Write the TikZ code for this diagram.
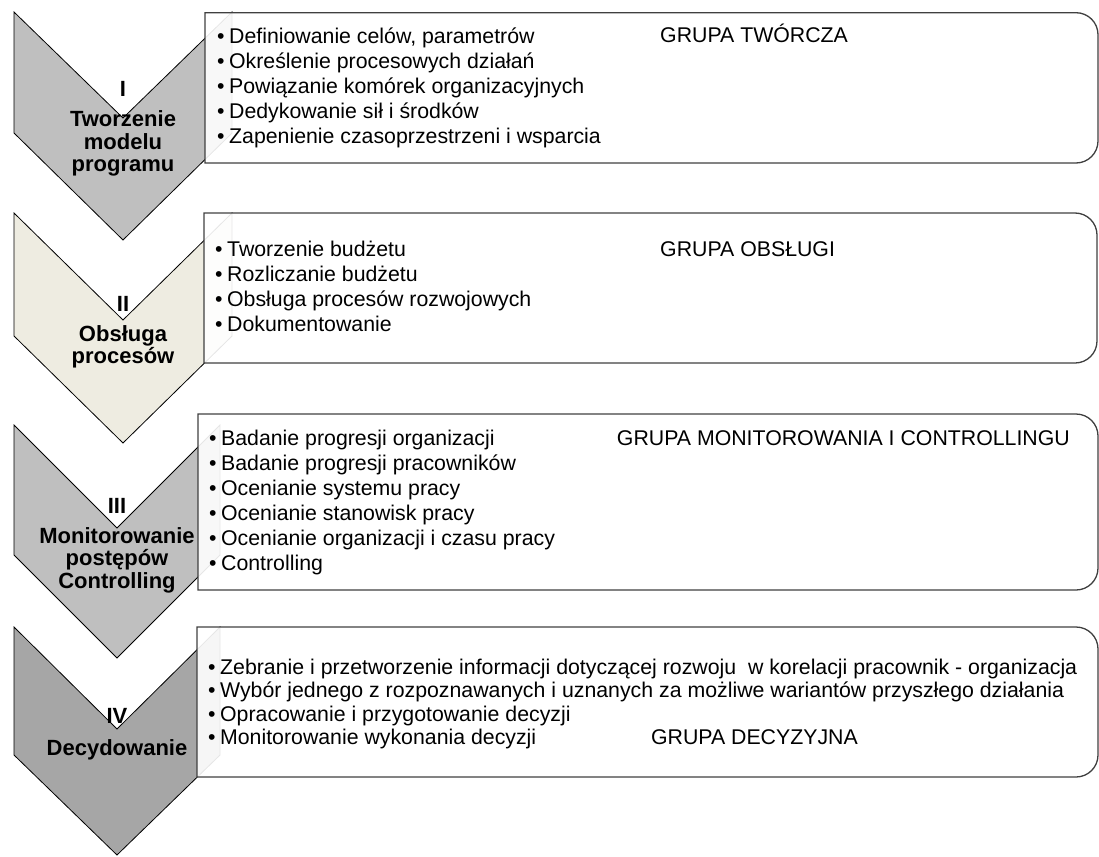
\documentclass[tikz,border=0pt]{standalone}
\usepackage{fontspec}
\setmainfont{Liberation Sans}
\usepackage{xcolor}
\definecolor{chevgray}{HTML}{BFBFBF}
\definecolor{chevcream}{HTML}{EEECE1}
\definecolor{chevdark}{HTML}{A6A6A6}
\definecolor{panelline}{HTML}{404040}
\newcommand{\punkt}{\textbullet\hspace{4.5pt}}
\tikzset{
    chevron/.style={draw=black, line width=0.8pt, line join=miter},
    panel/.style={draw=panelline, line width=1.3pt, fill=white, fill opacity=0.9},
    item/.style={anchor=base west, align=left, inner sep=0pt, font=\fontsize{21.3}{25}\selectfont},
    smallitem/.style={item, font=\fontsize{21.3}{23.5}\selectfont},
    group/.style={inner sep=0pt, font=\fontsize{21.3}{25}\selectfont},
    stage/.style={anchor=base, align=center, inner sep=0pt, font=\bfseries\fontsize{22}{22.5}\selectfont}
}

\begin{document}
\begin{tikzpicture}[x=1pt, y=-1pt]
    \useasboundingbox (0,0) rectangle (1099,856);

    % Chevrons
    \draw[chevron, fill=chevgray] (14,12) -- (123,118) -- (232,12) -- (232,133) -- (123,240) -- (14,133) -- cycle;
    \draw[chevron, fill=chevcream] (14,213) -- (123,320) -- (232,213) -- (232,336) -- (123,443) -- (14,336) -- cycle;
    \draw[chevron, fill=chevgray] (14,425) -- (117,528) -- (220,425) -- (220,555) -- (117,658) -- (14,555) -- cycle;
    \draw[chevron, fill=chevdark] (14,627) -- (117,729) -- (220,627) -- (220,755) -- (117,855) -- (14,755) -- cycle;

    % Stage labels (base = last line)
    \node[stage] (stage1) at (123,171.5) {I\\[7.5pt]Tworzenie\\modelu\\programu};
    \node[stage] (stage2) at (123,363.5) {II\\[7.5pt]Obsługa\\procesów};
    \node[stage] (stage3) at (117,588) {III\\[7.5pt]Monitorowanie\\postępów\\Controlling};
    \node[stage] (stage4) at (117,755) {IV\\[9.5pt]Decydowanie};

    % Panels
    \draw[panel] (205,163) -- (205,12.7) -- (1076,12.7) arc[start angle=-90, end angle=0, radius=22] -- (1098,141) arc[start angle=0, end angle=90, radius=22] -- cycle;
    \draw[panel] (204,363) -- (204,213) -- (1075,213) arc[start angle=-90, end angle=0, radius=22] -- (1097,341) arc[start angle=0, end angle=90, radius=22] -- cycle;
    \draw[panel] (198,590) -- (198,414) -- (1076,414) arc[start angle=-90, end angle=0, radius=22] -- (1098,568) arc[start angle=0, end angle=90, radius=22] -- cycle;
    \draw[panel] (197,777) -- (197,627) -- (1076,627) arc[start angle=-90, end angle=0, radius=22] -- (1098,755) arc[start angle=0, end angle=90, radius=22] -- cycle;

    % Panel texts (base = last line)
    \node[item] (list1) at (217,143) {\punkt Definiowanie celów, parametrów\\\punkt Określenie procesowych działań\\\punkt Powiązanie komórek organizacyjnych\\\punkt Dedykowanie sił i środków\\\punkt Zapenienie czasoprzestrzeni i wsparcia};
    \node[group, anchor=base west] (group1) at (660,43) {GRUPA TWÓRCZA};

    \node[item] (list2) at (215,331) {\punkt Tworzenie budżetu\\\punkt Rozliczanie budżetu\\\punkt Obsługa procesów rozwojowych\\\punkt Dokumentowanie};
    \node[group, anchor=base west] (group2) at (660,256) {GRUPA OBSŁUGI};

    \node[item] (list3) at (209,570) {\punkt Badanie progresji organizacji\\\punkt Badanie progresji pracowników\\\punkt Ocenianie systemu pracy\\\punkt Ocenianie stanowisk pracy\\\punkt Ocenianie organizacji i czasu pracy\\\punkt Controlling};
    \node[group, anchor=base east] (group3) at (1070,445) {GRUPA MONITOROWANIA I CONTROLLINGU};

    \node[smallitem] (list4) at (208,744.5) {\punkt Zebranie i przetworzenie informacji dotyczącej rozwoju\ \ w korelacji pracownik - organizacja\\\punkt Wybór jednego z rozpoznawanych i uznanych za możliwe wariantów przyszłego działania\\\punkt Opracowanie i przygotowanie decyzji\\\punkt Monitorowanie wykonania decyzji};
    \node[group, anchor=base east] (group4) at (858,744.5) {GRUPA DECYZYJNA};
\end{tikzpicture}
\end{document}
